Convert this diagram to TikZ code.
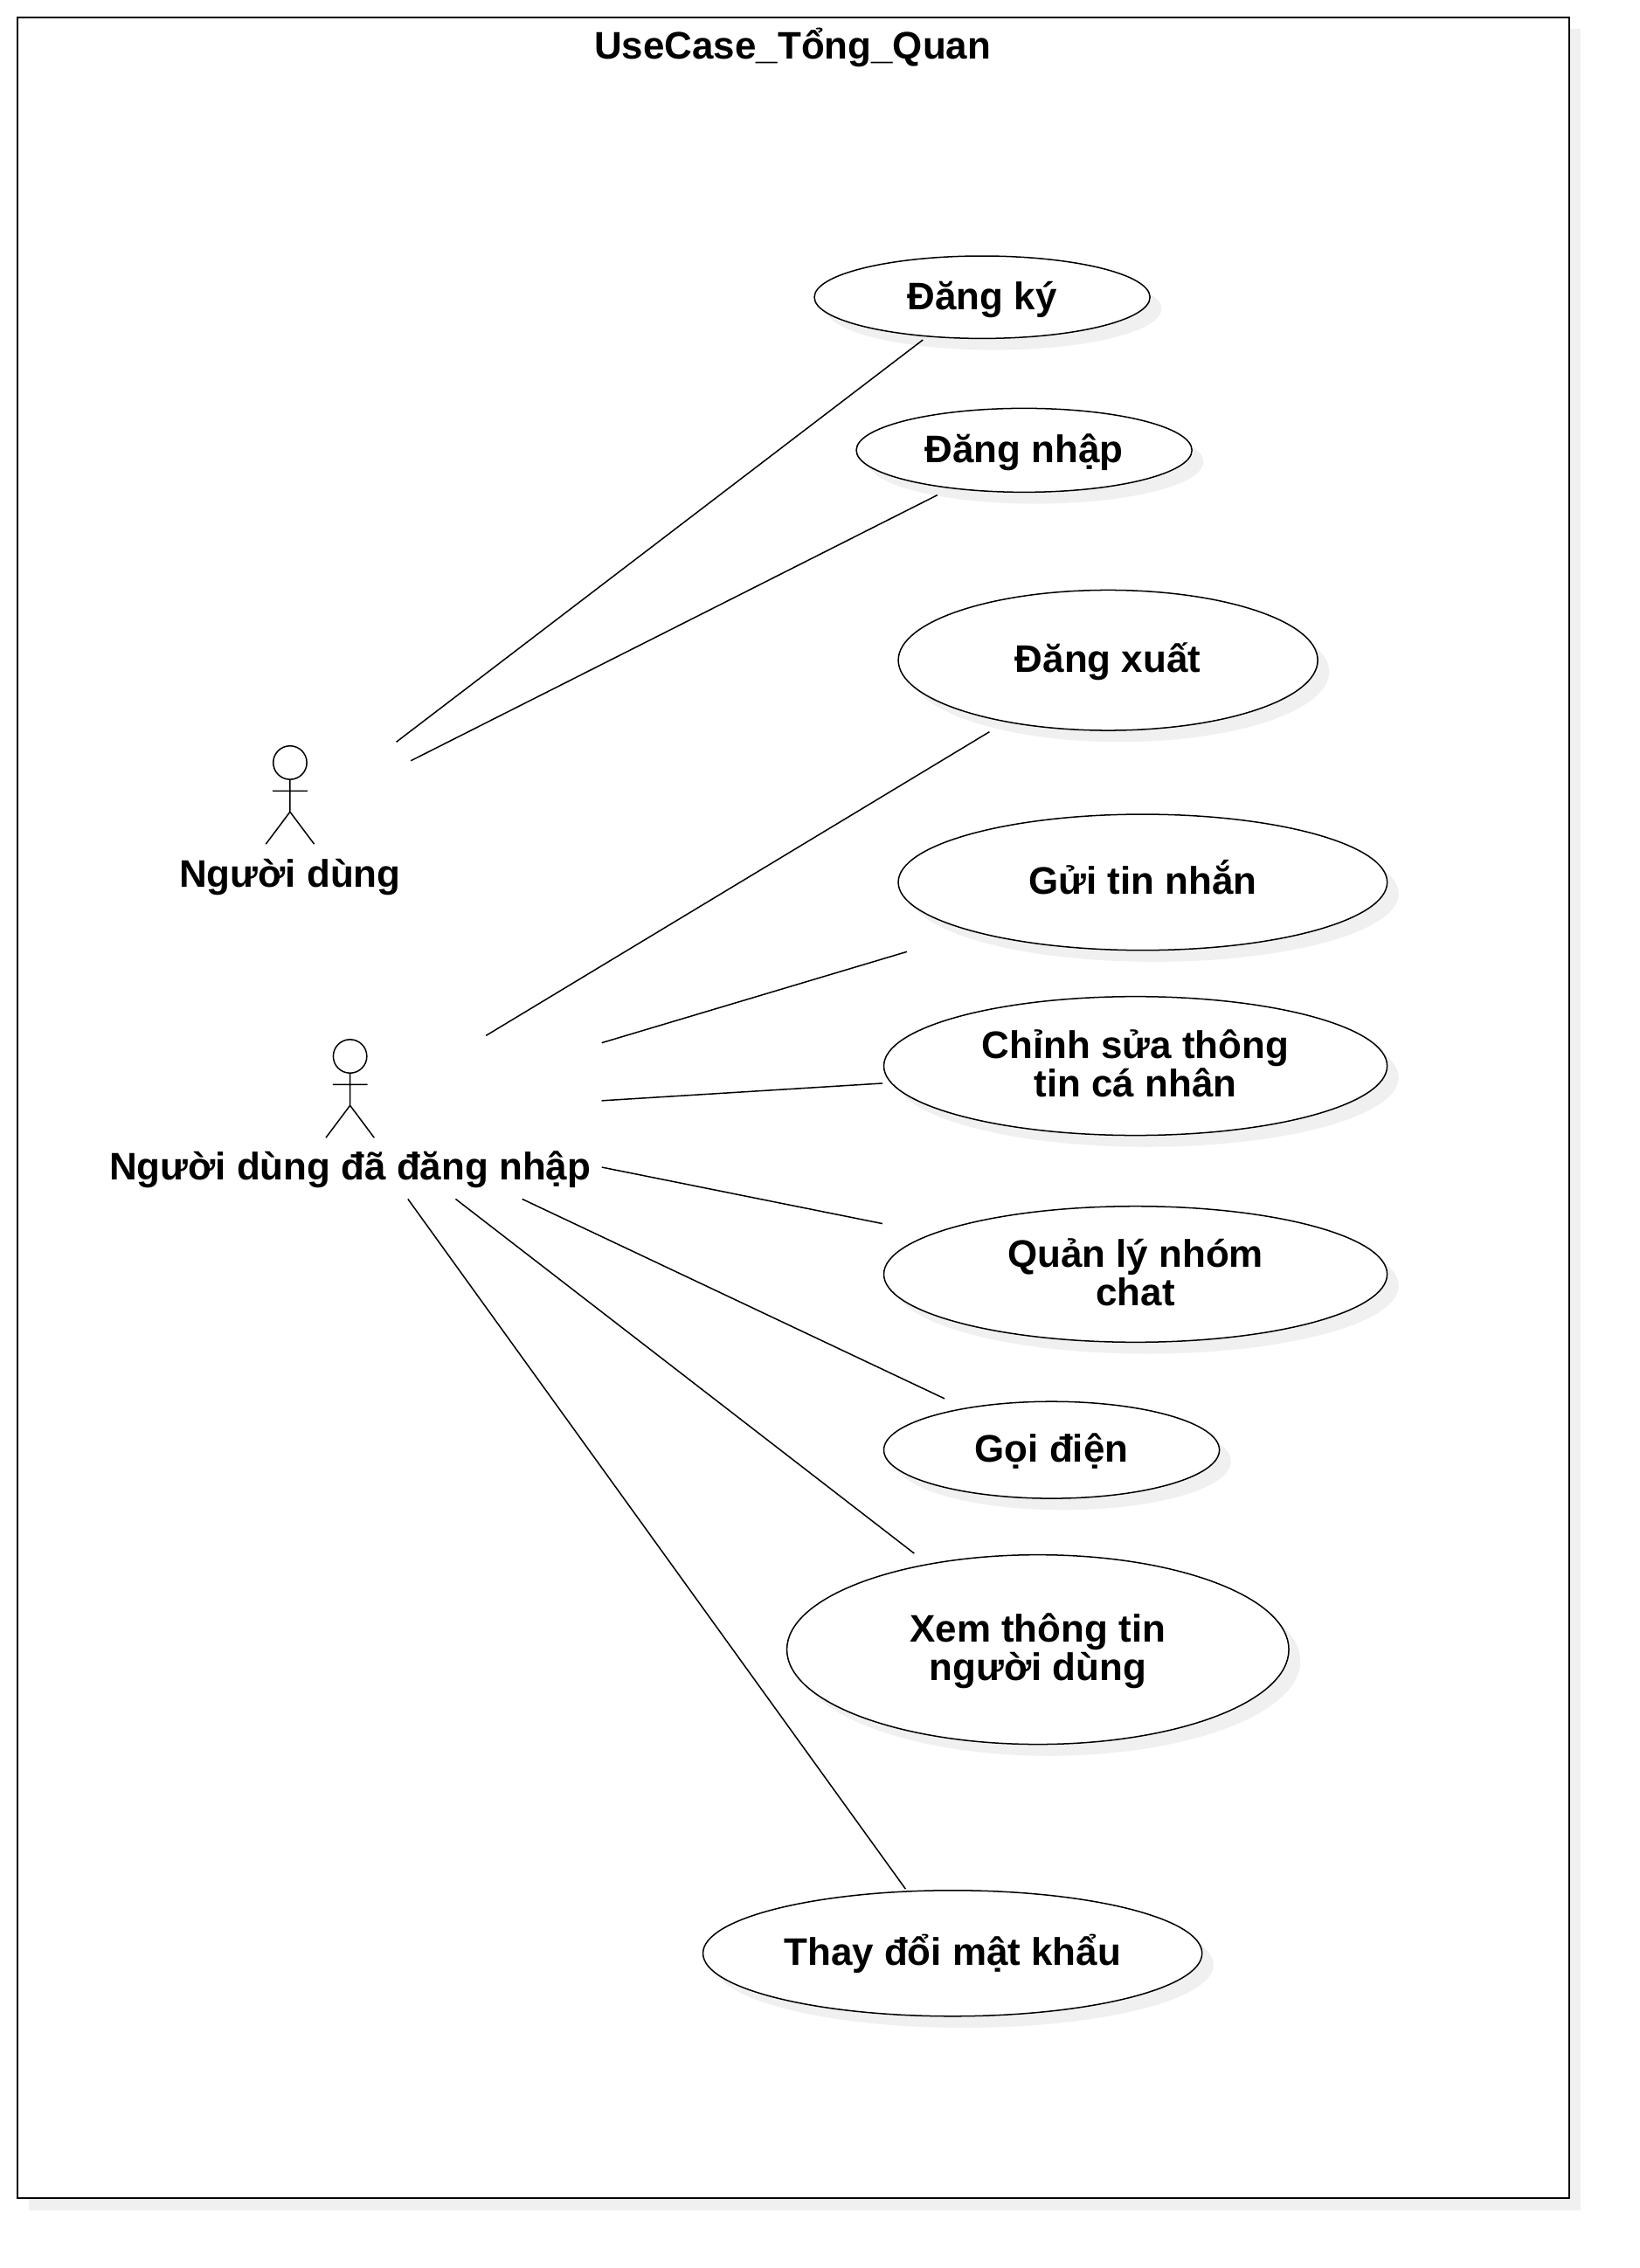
\documentclass[tikz,border=0pt]{standalone}
\usepackage{fontspec}
\setmainfont{Liberation Sans}
\definecolor{shadowgray}{HTML}{F0F0F0}
\usetikzlibrary{calc}
\usetikzlibrary{shapes}
\usetikzlibrary{shadows}
\newcommand{\textprop}{\rule[-3.5pt]{0pt}{15pt}}
\newcommand{\topprop}{\rule{0pt}{13.2pt}}
\newcommand{\botprop}{\rule[-5.5pt]{0pt}{5.5pt}}
\tikzstyle{softshadow}=[drop shadow={shadow xshift=.132cm, shadow yshift=-.132cm, fill=shadowgray, opacity=1}]
\tikzstyle{caption}=[inner sep=0mm, execute at begin node=\textprop, execute at end node=\textprop, font={\fontsize{12.5}{12.5}\selectfont\bfseries}]
\tikzstyle{usecase}=[caption, ellipse, draw, fill=white, line width=.43pt, align=center, softshadow]
\tikzstyle{link}=[line width=.43pt]
\tikzset{stickman/.pic={
    \draw[line width=.43pt] (0,0) circle (11.6);
    \draw[line width=.43pt] (0,11.6) -- (0,34) (-12,19.6) -- (12,19.6) (-16.7,56.3) -- (0,34) -- (16.7,56.3);
}}

\begin{document}
\begin{tikzpicture}[x=.016555cm, y=-.016555cm]

    \useasboundingbox (0,0) rectangle (1133.2,1568.1);
    \draw[line width=.57pt, fill=white, softshadow] (12,12) rectangle (1085,1520);
    \node[caption] (title) at (548,32) {UseCase\_Tổng\_Quan};

    \pic at (200.5,527.3) {stickman};
    \pic at (242,730.3) {stickman};
    \node[caption] (guest) at (200.5,605) {Người dùng};
    \node[caption] (member) at (242,807.5) {Người dùng đã đăng nhập};

    \node[usecase, minimum width=3.841cm, minimum height=.944cm] (register) at (679,205.5) {Đăng ký};
    \node[usecase, minimum width=3.841cm, minimum height=.96cm] (login) at (708,311.3) {Đăng nhập};
    \node[usecase, minimum width=4.80cm, minimum height=1.606cm] (logout) at (766,456.5) {Đăng xuất};
    \node[usecase, minimum width=5.596cm, minimum height=1.556cm] (message) at (790,610) {Gửi tin nhắn};
    \node[usecase, minimum width=5.761cm, minimum height=1.589cm] (profile) at (785,737) {\topprop Chỉnh sửa thông\\tin cá nhân\botprop};
    \node[usecase, minimum width=5.761cm, minimum height=1.556cm] (groups) at (785,881) {\topprop Quản lý nhóm\\chat\botprop};
    \node[usecase, minimum width=3.841cm, minimum height=1.109cm] (call) at (727,1002.5) {Gọi điện};
    \node[usecase, minimum width=5.745cm, minimum height=2.169cm] (userinfo) at (717.5,1140.5) {\topprop Xem thông tin\\người dùng\botprop};
    \node[usecase, minimum width=5.712cm, minimum height=1.44cm] (password) at (658.5,1350.5) {Thay đổi mật khẩu};

    \coordinate (guestA) at (274,513);
    \coordinate (guestB) at (284,526);
    \coordinate (memberA) at (336,716);
    \coordinate (memberB) at (416,721);
    \coordinate (memberC) at (416,761);
    \coordinate (memberD) at (416,807);
    \coordinate (memberE) at (361,829);
    \coordinate (memberF) at (315,829);
    \coordinate (memberG) at (282,829);

    \draw[link] (guestA) -- ($(register)+(-41,29.5)$);
    \draw[link] (guestB) -- ($(login)+(-60,31)$);
    \draw[link] (memberA) -- ($(logout)+(-82,49.5)$);
    \draw[link] (memberB) -- ($(message)+(-163,48)$);
    \draw[link] (memberC) -- ($(profile)+(-175,12)$);
    \draw[link] (memberD) -- ($(groups)+(-175,-35)$);
    \draw[link] (memberE) -- ($(call)+(-74,-35.5)$);
    \draw[link] (memberF) -- ($(userinfo)+(-85.5,-66.5)$);
    \draw[link] (memberG) -- ($(password)+(-32.5,-44.5)$);

\end{tikzpicture}
\end{document}
